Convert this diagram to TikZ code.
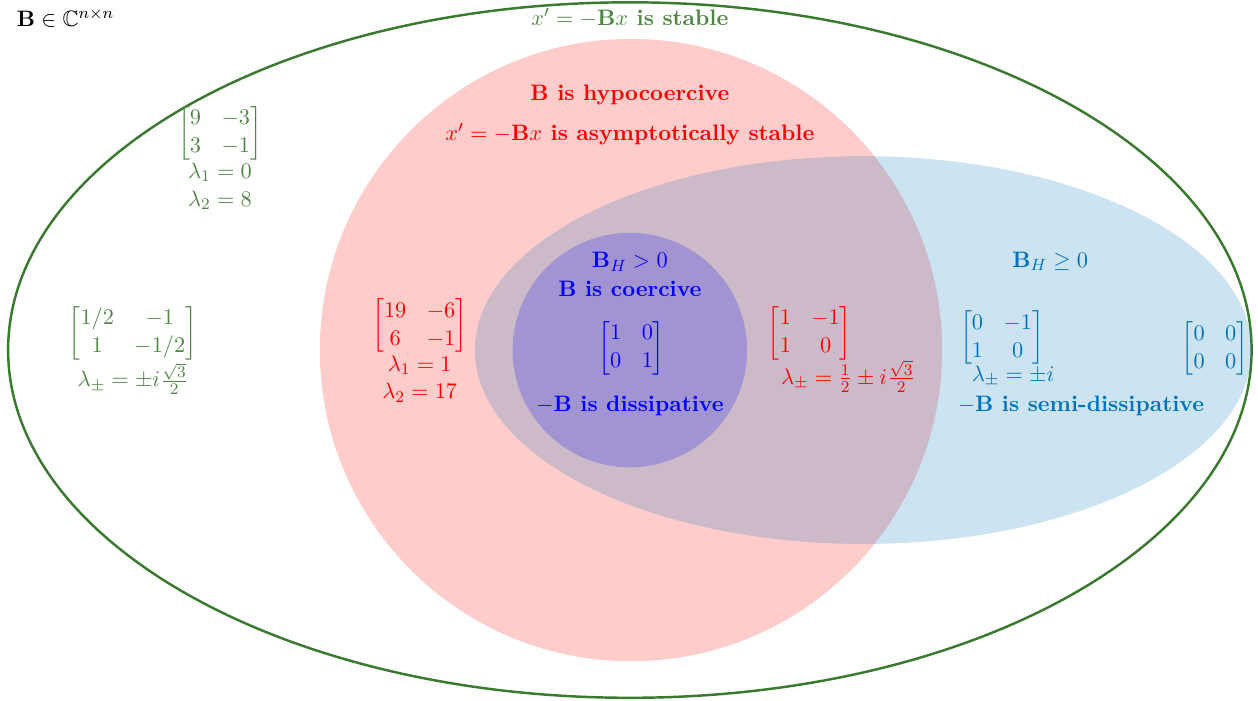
\documentclass[tikz,border=0pt,11pt]{standalone}
\usepackage{amsmath,amssymb}
\usepackage{xcolor}
\definecolor{cgreen}{HTML}{3A7A2E}
\definecolor{cblue}{HTML}{0072BD}

\begin{document}
\begin{tikzpicture}[
  gtx/.style = {text=cgreen!90, align=center, inner sep=1pt},
  rtx/.style = {text=red, align=center, inner sep=1pt},
  btx/.style = {text=blue, align=center, inner sep=1pt},
  ctx/.style = {text=cblue, align=center, inner sep=1pt},
  ttl/.style = {font=\bfseries}
]
\useasboundingbox (-10.85,-6.03) rectangle (10.82,6.03);
\draw[cgreen, line width=1.2pt] (0,0) ellipse (10.71 and 5.99);
\fill[red, opacity=0.2] (0.02,0) circle (5.36);
\fill[cblue, opacity=0.2] (4.02,0) ellipse (6.69 and 3.34);
\fill[blue, opacity=0.2] (0,0) circle (2.02);

\node[inner sep=1pt] (set) at (-9.72, 5.72) {$\mathbf{B}\in\mathbb{C}^{n\times n}$};
\node[gtx, ttl] (stab) at (0, 5.72) {$x'=-\mathbf{B}x$ is stable};
\node[rtx, ttl] (hypo) at (0, 4.39) {$\mathbf{B}$ is hypocoercive};
\node[rtx, ttl] (asym) at (0, 3.72) {$x'=-\mathbf{B}x$ is asymptotically stable};

\node[gtx] (g1) at (-7.06, 3.32)
  {$\begin{bmatrix}9&-3\\3&-1\end{bmatrix}$\\$\lambda_1=0$\\$\lambda_2=8$};
\node[gtx] (g2) at (-8.56, 0)
  {$\begin{bmatrix}1/2&-1\\1&-1/2\end{bmatrix}$\\$\lambda_\pm=\pm i\frac{\sqrt{3}}{2}$};
\node[rtx] (r1) at (-3.62, 0)
  {$\begin{bmatrix}19&-6\\6&-1\end{bmatrix}$\\$\lambda_1=1$\\$\lambda_2=17$};
\node[rtx] (r2) at (3.10, 0.29) {$\begin{bmatrix}1&-1\\1&0\end{bmatrix}$};
\node[rtx] (r2l) at (3.76, -0.45) {$\lambda_\pm=\frac{1}{2}\pm i\frac{\sqrt{3}}{2}$};

\node[btx, ttl] (bh) at (0, 1.52) {$\mathbf{B}_H>0$};
\node[btx, ttl] (coer) at (0, 1.05) {$\mathbf{B}$ is coercive};
\node[btx] (id) at (0.03, 0.03) {$\begin{bmatrix}1&0\\0&1\end{bmatrix}$};
\node[btx, ttl] (diss) at (0, -0.96) {$-\mathbf{B}$ is dissipative};

\node[ctx, ttl] (bhs) at (7.24, 1.53) {$\mathbf{B}_H\geq0$};
\node[ctx] (rot) at (6.41, 0.21) {$\begin{bmatrix}0&-1\\1&0\end{bmatrix}$};
\node[ctx] (rotl) at (6.60, -0.45) {$\lambda_\pm=\pm i$};
\node[ctx, ttl] (sdiss) at (7.77, -0.96) {$-\mathbf{B}$ is semi-dissipative};
\node[ctx] (zero) at (10.08, 0.02) {$\begin{bmatrix}0&0\\0&0\end{bmatrix}$};
\end{tikzpicture}
\end{document}
